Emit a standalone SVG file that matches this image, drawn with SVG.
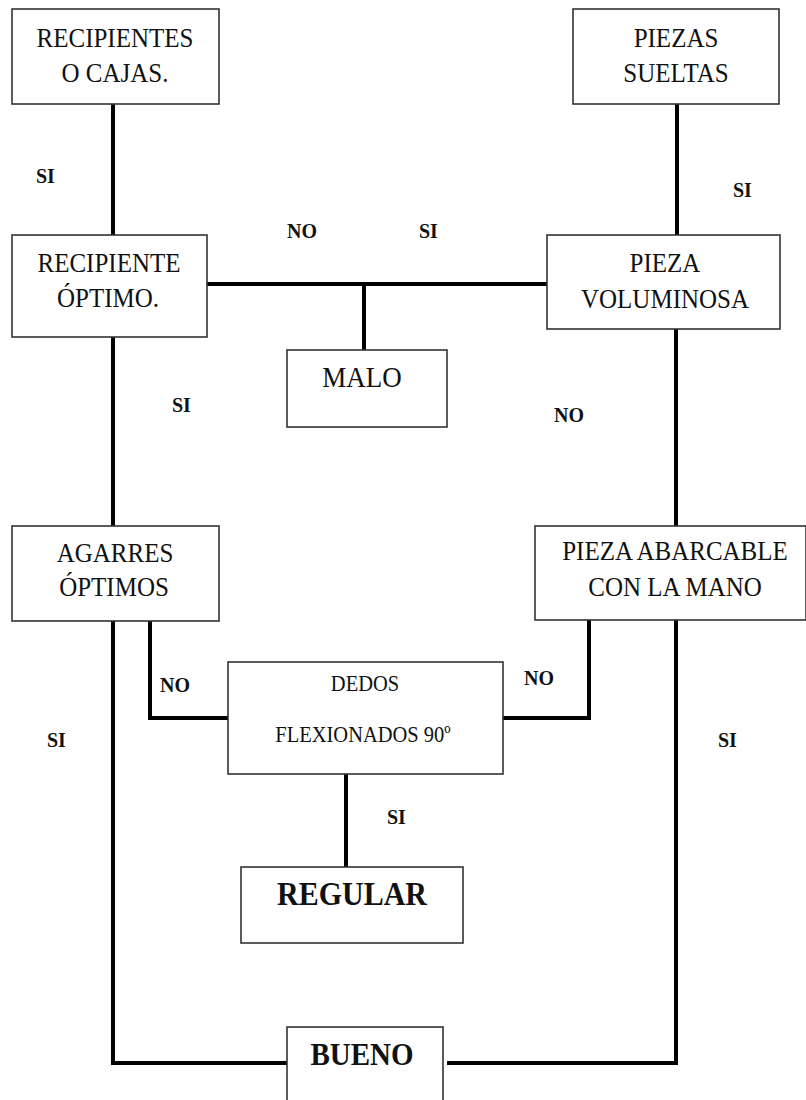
<svg xmlns="http://www.w3.org/2000/svg" width="806" height="1100" viewBox="0 0 806 1100">
<style>
.box{fill:#fff;stroke:#333;stroke-width:1.6}
.t{font-family:"Liberation Serif","Times New Roman",serif;font-size:25px;fill:#111;text-anchor:middle}
.tb{font-family:"Liberation Serif","Times New Roman",serif;font-size:30px;font-weight:bold;fill:#111;text-anchor:middle}
.ts{font-family:"Liberation Serif","Times New Roman",serif;font-size:20.5px;fill:#111;text-anchor:middle}
.lbl{font-family:"Liberation Serif","Times New Roman",serif;font-size:20px;font-weight:bold;fill:#111}
.c{fill:none;stroke:#000;stroke-width:4;stroke-linejoin:miter}
</style>
<rect width="806" height="1100" fill="#fff"/>
<g id="connectors">
<path class="c" d="M113 104V235"/>
<path class="c" d="M677 104V235"/>
<path class="c" d="M207 284H547"/>
<path class="c" d="M364 284V350"/>
<path class="c" d="M113 337V526"/>
<path class="c" d="M676 329V526"/>
<path class="c" d="M150 621V718H228"/>
<path class="c" d="M589 620V718H503"/>
<path class="c" d="M113 621V1063H287"/>
<path class="c" d="M676 620V1063H447"/>
<path class="c" d="M346 774V867"/>
</g>
<g id="labels">
<text class="lbl" transform="translate(36 183) scale(1 1.1)">SI</text>
<text class="lbl" transform="translate(733 197) scale(1 1.1)">SI</text>
<text class="lbl" transform="translate(287 238) scale(1 1.1)">NO</text>
<text class="lbl" transform="translate(419 238) scale(1 1.1)">SI</text>
<text class="lbl" transform="translate(172 412) scale(1 1.1)">SI</text>
<text class="lbl" transform="translate(554 422) scale(1 1.1)">NO</text>
<text class="lbl" transform="translate(160 692) scale(1 1.1)">NO</text>
<text class="lbl" transform="translate(524 685) scale(1 1.1)">NO</text>
<text class="lbl" transform="translate(47 747) scale(1 1.1)">SI</text>
<text class="lbl" transform="translate(718 747) scale(1 1.1)">SI</text>
<text class="lbl" transform="translate(387 824) scale(1 1.1)">SI</text>
</g>
<g id="recipientes">
<rect class="box" x="12" y="9" width="207" height="95"/>
<text class="t" transform="translate(115 47) scale(1 1.1)">RECIPIENTES</text>
<text class="t" transform="translate(115 82) scale(1 1.1)">O CAJAS.</text>
</g>
<g id="piezas">
<rect class="box" x="573" y="9" width="206" height="95"/>
<text class="t" transform="translate(676 47) scale(1 1.1)">PIEZAS</text>
<text class="t" transform="translate(676 82) scale(1 1.1)">SUELTAS</text>
</g>
<g id="recipiente">
<rect class="box" x="12" y="235" width="195" height="102"/>
<text class="t" transform="translate(109 272) scale(1 1.1)">RECIPIENTE</text>
<text class="t" transform="translate(108 307) scale(1 1.1)">ÓPTIMO.</text>
</g>
<g id="voluminosa">
<rect class="box" x="547" y="235" width="233" height="94"/>
<text class="t" transform="translate(665 272) scale(1 1.1)">PIEZA</text>
<text class="t" transform="translate(665 308) scale(1 1.1)">VOLUMINOSA</text>
</g>
<g id="malo">
<rect class="box" x="287" y="350" width="160" height="77"/>
<text class="t" transform="translate(362 387) scale(1 1.1)" style="font-size:27px">MALO</text>
</g>
<g id="agarres">
<rect class="box" x="12" y="526" width="207" height="95"/>
<text class="t" transform="translate(115 562) scale(1 1.1)">AGARRES</text>
<text class="t" transform="translate(114 596) scale(1 1.1)">ÓPTIMOS</text>
</g>
<g id="abarcable">
<rect class="box" x="535" y="526" width="271" height="94"/>
<text class="t" transform="translate(675 560) scale(1 1.1)">PIEZA ABARCABLE</text>
<text class="t" transform="translate(675 596) scale(1 1.1)">CON LA MANO</text>
</g>
<g id="dedos">
<rect class="box" x="228" y="662" width="275" height="112"/>
<text class="ts" transform="translate(365 691) scale(1 1.1)">DEDOS</text>
<text class="ts" transform="translate(363 742) scale(1 1.1)">FLEXIONADOS 90º</text>
</g>
<g id="regular">
<rect class="box" x="241" y="867" width="222" height="76"/>
<text class="tb" transform="translate(352 905) scale(1 1.1)">REGULAR</text>
</g>
<g id="bueno">
<rect class="box" x="287" y="1027" width="156" height="80"/>
<text class="tb" transform="translate(362 1065) scale(1 1.1)" style="font-size:29px">BUENO</text>
</g>
</svg>
